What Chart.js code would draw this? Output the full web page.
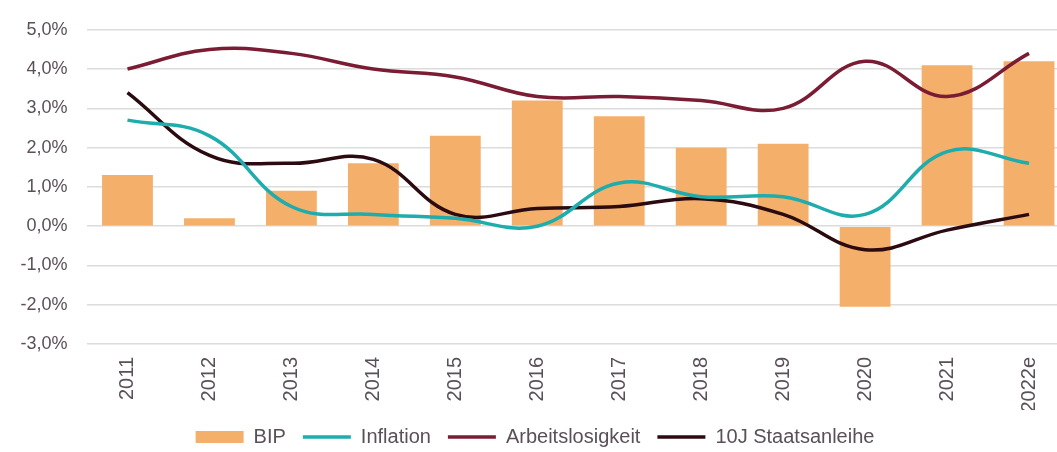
<!DOCTYPE html>
<html lang="de">
<head>
  <meta charset="UTF-8" />
  <title>Konjunkturdaten 2011–2022e</title>
  <script src="https://cdn.jsdelivr.net/npm/chart.js"></script>
  <style>
    html, body {
      margin: 0;
      padding: 0;
      background: #fff;
      overflow: hidden;
    }
    #wrap {
      width: 1072px;
      height: 452px;
    }
  </style>
</head>
<body>
  <div id="wrap">
    <canvas id="chart"></canvas>
  </div>

  <script>
    // Werte (in %)
    const years = ['2011', '2012', '2013', '2014', '2015', '2016', '2017', '2018', '2019', '2020', '2021', '2022e'];
    const bip = [1.3, 0.2, 0.9, 1.6, 2.3, 3.2, 2.8, 2.0, 2.1, -2.05, 4.1, 4.2];
    const inflation = [2.7, 2.3, 0.5, 0.3, 0.2, 0.0, 1.1, 0.75, 0.75, 0.3, 1.9, 1.6];
    const arbeitslosigkeit = [4.0, 4.5, 4.4, 4.0, 3.8, 3.3, 3.3, 3.2, 3.0, 4.2, 3.3, 4.4];
    const staatsanleihe = [3.4, 1.8, 1.6, 1.7, 0.3, 0.45, 0.5, 0.7, 0.3, -0.6, -0.1, 0.3];

    const yMin = -3;
    const yMax = 5;

    const textColor = '#5a5058';
    Chart.defaults.font.family = '"Liberation Sans", Arial, sans-serif';
    Chart.defaults.color = textColor;

    function lineSet(label, data, color) {
      return {
        type: 'line',
        label: label,
        data: data,
        borderColor: color,
        backgroundColor: color,
        borderWidth: 3.5,
        pointRadius: 0,
        pointStyle: 'line',
        tension: 0.4,
        fill: false,
        order: 0
      };
    }

    new Chart(document.getElementById('chart'), {
      type: 'bar',
      data: {
        labels: years,
        datasets: [
          {
            label: 'BIP',
            data: bip,
            backgroundColor: '#f4af6a',
            borderWidth: 0,
            barPercentage: 0.62,
            categoryPercentage: 1,
            pointStyle: 'rect',
            order: 1
          },
          lineSet('Inflation', inflation, '#1eacac'),
          lineSet('Arbeitslosigkeit', arbeitslosigkeit, '#7a1c34'),
          lineSet('10J Staatsanleihe', staatsanleihe, '#2b0b10')
        ]
      },
      options: {
        responsive: true,
        maintainAspectRatio: false,
        animation: false,
        layout: { padding: { top: 15, left: 0, right: 2, bottom: 0 } },
        plugins: {
          tooltip: { enabled: false },
          legend: {
            position: 'bottom',
            maxHeight: 42,
            labels: {
              usePointStyle: true,
              pointStyleWidth: 48,
              boxHeight: 12,
              padding: 17,
              color: textColor,
              font: { size: 20 },
              sort: (a, b) => a.datasetIndex - b.datasetIndex
            }
          }
        },
        scales: {
          x: {
            grid: { display: false, drawTicks: false },
            border: { display: false },
            ticks: {
              minRotation: 90,
              maxRotation: 90,
              autoSkip: false,
              padding: 13,
              font: { size: 20 }
            },
            afterFit: (scale) => { scale.height = 66; }
          },
          y: {
            min: yMin,
            max: yMax,
            grid: { color: '#dcdcdc', lineWidth: 1.5, drawTicks: false },
            border: { display: false },
            ticks: {
              stepSize: 1,
              padding: 19,
              font: { size: 18 },
              callback: (v) => v.toFixed(1).replace('.', ',') + '%'
            },
            afterFit: (scale) => { scale.width = 86.5; }
          }
        }
      }
    });
  </script>
</body>
</html>
